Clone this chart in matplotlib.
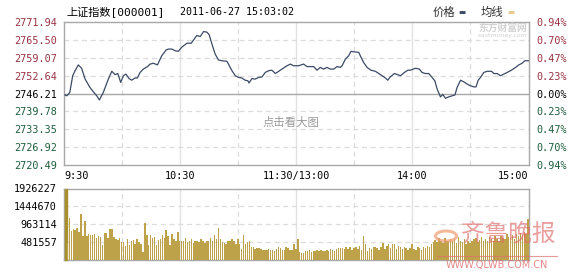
import matplotlib
matplotlib.use("Agg")
import matplotlib.pyplot as plt
from matplotlib.patches import Circle

# --- data ---
# intraday price, minutes after 9:30 (lunch break collapsed, 120 = 11:30/13:00)
price_min = [0.5, 1.5, 3, 4.5, 5.7, 7.4, 9.1, 10.9, 13.4, 15.2, 16.9, 18.3, 20.3,
             22.9, 24.7, 26.4, 27.8, 29.3, 30.7, 32, 33.6, 35, 36.7, 37.9, 39.3,
             41, 43.1, 44.5, 46.2, 48.3, 50.5, 52.8, 54, 55.7, 57.4, 59.1, 60.9,
             63.5, 65.7, 67.4, 68.6, 70.4, 72.1, 73.8, 75, 76.4, 78.1, 79.8, 81.5,
             84.2, 86.8, 88.5, 90.2, 91.9, 93.6, 95, 95.6, 97.1, 98.8, 100.5,
             102.3, 104, 105.7, 107.4, 109.2, 110.9, 112.6, 115.2, 117, 118.6,
             121.2, 123.8, 125.5, 129, 130.7, 132.4, 134.1, 135.9, 137.6, 139.3,
             141.1, 142.8, 143.7, 145.4, 147.1, 148.3, 150, 152.3, 153.5, 154.8,
             156.6, 158.6, 160.9, 162.6, 164.4, 165.7, 167.3, 168.6, 170.7, 172.4,
             173.8, 175.9, 177.7, 179, 181.6, 183.6, 185, 186.7, 188.5, 189.9,
             191.6, 192.8, 194.5, 195.7, 197.1, 198.8, 200.6, 202, 203.1, 204.9,
             206.6, 208.3, 210, 211.7, 212.9, 214, 215.2, 216.9, 218.6, 220.9,
             222.1, 223.8, 225.5, 227.3, 229, 231.2, 233.3, 235, 236.7, 238.1, 239.9]
price = [2745.7, 2745.4, 2746.6, 2752.6, 2754.4, 2756.5, 2755.3, 2751.4, 2748.4,
         2746.8, 2745.4, 2743.9, 2746.6, 2751.4, 2754.2, 2753.0, 2753.4, 2750.2,
         2752.6, 2753.2, 2751.6, 2751.0, 2751.8, 2751.8, 2753.8, 2755.0, 2755.9,
         2756.8, 2757.1, 2756.5, 2759.8, 2761.9, 2762.2, 2762.2, 2761.6, 2761.4,
         2762.9, 2764.3, 2764.3, 2765.9, 2767.1, 2766.7, 2768.5, 2768.3, 2767.4,
         2764.1, 2760.4, 2758.3, 2758.0, 2757.8, 2754.4, 2752.6, 2752.0, 2751.8,
         2751.0, 2750.8, 2750.0, 2751.6, 2751.4, 2752.0, 2752.2, 2753.8, 2754.4,
         2754.6, 2753.4, 2754.2, 2755.0, 2756.2, 2756.8, 2756.2, 2756.2, 2756.8,
         2755.9, 2755.9, 2754.6, 2755.6, 2755.0, 2755.6, 2755.0, 2755.0, 2755.9,
         2755.6, 2756.2, 2758.6, 2759.8, 2761.4, 2761.2, 2761.0, 2759.2, 2757.4,
         2755.6, 2754.6, 2754.2, 2753.4, 2752.6, 2752.0, 2751.0, 2752.2, 2753.4,
         2753.0, 2752.6, 2753.8, 2754.6, 2754.6, 2755.3, 2755.0, 2753.8, 2753.4,
         2753.4, 2752.2, 2750.8, 2747.8, 2745.0, 2745.9, 2744.5, 2745.0, 2745.4,
         2745.7, 2748.4, 2751.0, 2750.4, 2749.6, 2749.0, 2748.6, 2748.6, 2751.0,
         2752.0, 2753.8, 2754.2, 2754.2, 2753.4, 2753.4, 2752.6, 2753.2, 2753.8,
         2754.6, 2755.6, 2756.5, 2757.1, 2758.0, 2758.0]

# volume per minute, in thousands of shares
vol_k = [1926, 450, 1140, 780, 830, 800, 850, 760, 1250, 650,
         1050, 645, 690, 670, 670, 690, 580, 650, 610, 400,
         740, 720, 580, 830, 830, 630, 560, 540, 580, 475,
         475, 390, 560, 400, 520, 540, 430, 560, 490, 430,
         220, 1010, 680, 400, 680, 580, 620, 400, 540, 560,
         680, 600, 800, 660, 400, 700, 560, 520, 760, 520,
         500, 500, 600, 480, 500, 560, 460, 500, 520, 480,
         560, 500, 470, 520, 500, 600, 520, 680, 560, 870,
         560, 480, 460, 440, 520, 500, 560, 500, 440, 560,
         440, 300, 670, 420, 480, 500, 350, 340, 300, 330,
         330, 300, 280, 270, 280, 300, 260, 260, 240, 300,
         340, 320, 260, 260, 350, 330, 260, 280, 420, 300,
         560, 220, 180, 200, 240, 230, 260, 220, 240, 230,
         260, 240, 280, 250, 230, 270, 250, 300, 260, 240,
         300, 320, 330, 330, 300, 340, 300, 340, 260, 320,
         340, 300, 380, 260, 650, 420, 240, 330, 300, 360,
         340, 330, 280, 360, 450, 300, 380, 420, 320, 430,
         420, 300, 380, 340, 290, 350, 320, 280, 320, 440,
         300, 280, 340, 320, 260, 350, 320, 380, 360, 420,
         480, 540, 480, 580, 520, 460, 600, 520, 500, 560,
         500, 560, 460, 620, 520, 480, 560, 440, 500, 470,
         520, 560, 600, 480, 540, 620, 520, 560, 500, 620,
         560, 500, 640, 560, 520, 660, 600, 560, 700, 620,
         600, 680, 560, 700, 640, 720, 680, 760, 700, 1110]

prev_close = 2746.21
price_ticks = [2720.49, 2726.92, 2733.35, 2739.78, 2746.21,
               2752.64, 2759.07, 2765.50, 2771.94]
pct_labels = ["0.94%", "0.70%", "0.47%", "0.23%", "0.00%",
              "0.23%", "0.47%", "0.70%", "0.94%"]
vol_ticks = [481557, 963114, 1444670, 1926227]
time_ticks = [0, 60, 120, 180, 240]
time_labels = ["9:30", "10:30", "11:30/13:00", "14:00", "15:00"]

W, H = 578, 276
UP = "#993344"
DOWN = "#1e5e3c"
GRID = "#dcdcdc"
FRAME = "#a8a8a8"
MONO = ["DejaVu Sans Mono", "Noto Sans CJK SC"]
CJK = ["Noto Sans CJK SC", "DejaVu Sans"]


def box(x0, y0, x1, y1):
    return [x0 / W, 1 - y1 / H, (x1 - x0) / W, (y1 - y0) / H]


def pt(x, y):
    return x / W, 1 - y / H


def style_grid(ax):
    for m in (30, 90, 150, 210):
        ax.axvline(m, color=GRID, lw=0.9, ls=(0, (4, 3)), zorder=0)
    for m in (60, 120, 180):
        ax.axvline(m, color="#e2e2e2", lw=1.0, zorder=0)
    for s in ax.spines.values():
        s.set_color(FRAME)
        s.set_linewidth(1.0)
    ax.tick_params(length=0)


fig = plt.figure(figsize=(W / 100, H / 100), dpi=100)
fig.patch.set_facecolor("white")

# price panel
ax = fig.add_axes(box(64, 22, 528.5, 165))
ax.set_xlim(0, 240)
ax.set_ylim(price_ticks[0], price_ticks[-1])
style_grid(ax)
for v in price_ticks[1:-1]:
    if v == prev_close:
        ax.axhline(v, color=FRAME, lw=1.0, zorder=1)
    else:
        ax.axhline(v, color=GRID, lw=0.9, ls=(0, (4, 3)), zorder=0)
ax.plot(price_min, price, color="#3b4a66", lw=0.9, zorder=3)

ax.set_yticks(price_ticks)
ax.set_yticklabels([f"{v:.2f}" for v in price_ticks], family=MONO, fontsize=7.3)
for lab, v in zip(ax.get_yticklabels(), price_ticks):
    lab.set_color(UP if v > prev_close else DOWN if v < prev_close else "black")
ax.tick_params(axis="y", pad=5)

ax.set_xticks(time_ticks)
ax.set_xticklabels(time_labels, family=MONO, fontsize=7.3)
ax.tick_params(axis="x", pad=4)
xl = ax.get_xticklabels()
xl[0].set_ha("left")
xl[0].set_x(-1)
xl[-1].set_ha("right")

ax2 = ax.twinx()
ax2.set_ylim(ax.get_ylim())
ax2.set_yticks(price_ticks)
ax2.set_yticklabels(pct_labels, family=MONO, fontsize=7.3)
for lab, v in zip(ax2.get_yticklabels(), price_ticks):
    lab.set_color(UP if v > prev_close else DOWN if v < prev_close else "black")
ax2.tick_params(length=0, pad=6)
for s in ax2.spines.values():
    s.set_visible(False)

# volume panel
axv = fig.add_axes(box(64, 188.5, 528.5, 260))
axv.set_xlim(0, 240)
axv.set_ylim(0, vol_ticks[-1])
style_grid(axv)
for v in vol_ticks[:-1]:
    axv.axhline(v, color=GRID, lw=0.9, ls=(0, (4, 3)), zorder=0)
bars = axv.bar([m + 0.8 for m in range(len(vol_k))], [v * 1000 for v in vol_k],
               width=0.75, align="center", color="#bda24a", edgecolor="none",
               zorder=3, clip_on=False)
bars[0].set_width(1.1)
bars[0].set_x(0.55)
bars[0].set_color("#a8902c")
axv.set_xticks([])
axv.set_yticks(vol_ticks)
axv.set_yticklabels([str(v) for v in vol_ticks], family=MONO, fontsize=7.3)
axv.tick_params(axis="y", pad=5)

# header
fig.text(*pt(66, 12), "上证指数[000001]", family=MONO, fontsize=8,
         va="center", ha="left")
fig.text(*pt(180, 12), "2011-06-27 15:03:02", family=MONO, fontsize=7.2,
         va="center", ha="left")
fig.text(*pt(433, 12), "价格", family=CJK, fontsize=8.2, va="center", ha="left",
         color="#333333")
fig.text(*pt(458, 12.5), "▬", family=["DejaVu Sans"], fontsize=5.5,
         va="center", ha="left", color="#3b4a66")
fig.text(*pt(481, 12), "均线", family=CJK, fontsize=8.2, va="center", ha="left",
         color="#333333")
fig.text(*pt(507, 12.5), "▬", family=["DejaVu Sans"], fontsize=5.5,
         va="center", ha="left", color="#e8c890")

# watermarks
fig.text(*pt(291, 122), "点击看大图", family=CJK, fontsize=8.2, va="center",
         ha="center", color="#9a9a9a")
fig.text(*pt(503, 28), "东方财富网", family=CJK, fontsize=7, va="center",
         ha="center", color="#d2d2d2", weight="bold")
fig.text(*pt(503, 36), "eastmoney.com", family=["DejaVu Sans"], fontsize=4.5,
         va="center", ha="center", color="#d2d2d2")
fig.text(*pt(508, 234), "齐鲁晚报", family=CJK, fontsize=17, va="center",
         ha="center", color="#e06a6a", alpha=0.65)
fig.add_artist(Circle(pt(446, 236), 10.5 / W, transform=fig.transFigure,
                      fill=False, edgecolor="#f09a70", lw=2.2, alpha=0.7))
fig.add_artist(plt.Line2D([437 / W, 557 / W], [1 - 256 / H, 1 - 256 / H],
                          transform=fig.transFigure, color="#e07070",
                          lw=0.8, alpha=0.7))
fig.text(*pt(497, 265), "WWW.QLWB.COM.CN", family=["DejaVu Sans"], fontsize=7,
         va="center", ha="center", color="#e06a6a", alpha=0.8)

fig.savefig("out.png", dpi=100)
